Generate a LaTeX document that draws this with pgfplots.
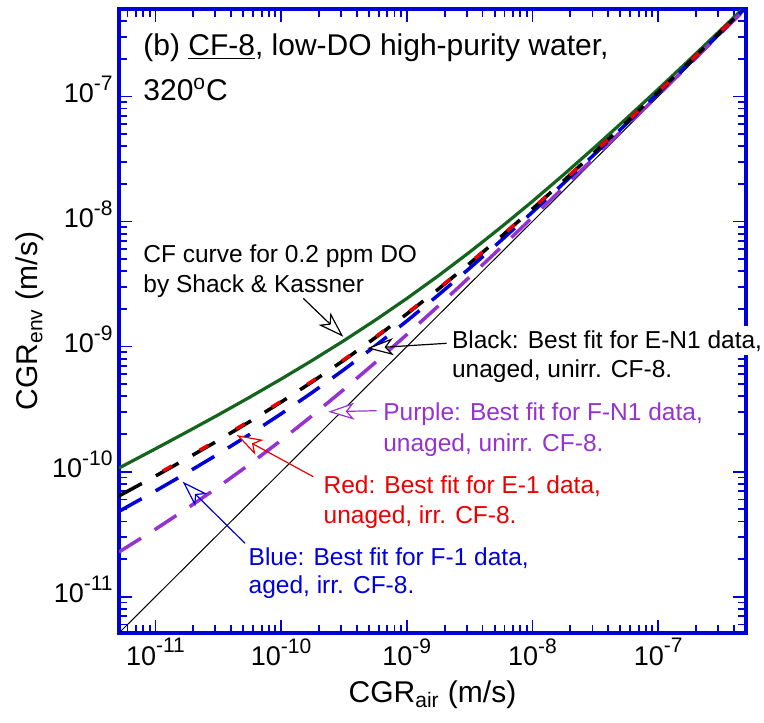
\documentclass[border=0pt]{standalone}
\usepackage{fontspec}
\setmainfont{Liberation Sans}
\usepackage{pgfplots}
\pgfplotsset{compat=1.18}
\usetikzlibrary{arrows.meta}
\definecolor{axblue}{RGB}{0,0,220}
\definecolor{cfgreen}{RGB}{20,100,30}
\definecolor{cpurple}{RGB}{150,50,210}
\definecolor{cred}{RGB}{235,0,0}
\definecolor{cblue}{RGB}{0,0,220}
\newcommand\tklab{\mbox{\fontsize{13.5bp}{15bp}\selectfont 10\raisebox{0.45em}{\fontsize{10.5bp}{12bp}\selectfont -\pgfmathparse{int(round(-\tick/ln(10)))}\pgfmathresult}}}
\tikzset{
  annot/.style={font=\fontsize{12.25bp}{14bp}\selectfont, anchor=base west, inner sep=0pt},
  arr/.style={line width=0.6bp, -{Stealth[fill=white, length=13bp, width=8.5bp, inset=3.5bp]}},
}
\begin{document}
\begin{tikzpicture}
\begin{axis}[
  xmode=log, ymode=log,
  scale only axis, width=313.5bp, height=312bp,
  xmin=5.13e-12, xmax=5e-7, ymin=5.13e-12, ymax=5e-7,
  axis line style={draw=axblue, line width=1.75bp},
  tick style={draw=axblue, line width=0.9bp},
  major tick length=6.5bp, minor tick length=4bp,
  tick align=inside,
  xtick={1e-11,1e-10,1e-9,1e-8,1e-7},
  ytick={1e-11,1e-10,1e-9,1e-8,1e-7},
  xticklabel={\tklab},
  yticklabel={\tklab},
  minor xtick={6e-12,7e-12,8e-12,9e-12,2e-11,3e-11,4e-11,5e-11,6e-11,7e-11,8e-11,9e-11,2e-10,3e-10,4e-10,5e-10,6e-10,7e-10,8e-10,9e-10,2e-9,3e-9,4e-9,5e-9,6e-9,7e-9,8e-9,9e-9,2e-8,3e-8,4e-8,5e-8,6e-8,7e-8,8e-8,9e-8,2e-7,3e-7,4e-7},
  minor ytick={6e-12,7e-12,8e-12,9e-12,2e-11,3e-11,4e-11,5e-11,6e-11,7e-11,8e-11,9e-11,2e-10,3e-10,4e-10,5e-10,6e-10,7e-10,8e-10,9e-10,2e-9,3e-9,4e-9,5e-9,6e-9,7e-9,8e-9,9e-9,2e-8,3e-8,4e-8,5e-8,6e-8,7e-8,8e-8,9e-8,2e-7,3e-7,4e-7},
  xticklabel style={inner sep=2.5bp},
  yticklabel style={yshift=3.5bp, inner sep=3bp},
  xlabel={CGR\textsubscript{air} (m/s)},
  ylabel={CGR\textsubscript{env} (m/s)},
  label style={font=\fontsize{15bp}{18bp}\selectfont},
  xlabel style={at={(axis description cs:0.5,-0.1106)}, anchor=base},
  ylabel style={at={(axis description cs:-0.1292,0.5)}, anchor=base},
]
% y = x reference line
\addplot[black, line width=0.5bp] coordinates {(5.13e-12,5.13e-12) (5.0e-7,5.0e-7)};
% Shack & Kassner CF curve, 0.2 ppm DO
\addplot[cfgreen, line width=1.6bp] coordinates {
(5.13e-12,1.070e-10) (1e-11,1.523e-10) (1.778e-11,2.076e-10) (3.162e-11,2.846e-10)
(5.623e-11,3.937e-10) (1e-10,5.5e-10) (1.778e-10,7.781e-10) (3.162e-10,1.116e-9)
(5.623e-10,1.629e-9) (1e-9,2.423e-9) (1.778e-9,3.676e-9) (3.162e-9,5.692e-9)
(5.623e-9,8.998e-9) (1e-8,1.45e-8) (1.778e-8,2.378e-8) (3.162e-8,3.962e-8)
(5.623e-8,6.690e-8) (1e-7,1.142e-7) (1.778e-7,1.968e-7) (3.162e-7,3.415e-7) (5.012e-7,5.331e-7)};
% Purple: F-N1
\addplot[cpurple, line width=1.75bp, dash pattern=on 13bp off 8bp] coordinates {
(5.13e-12,2.280e-11) (1e-11,3.466e-11) (1.778e-11,5.067e-11) (3.162e-11,7.548e-11)
(5.623e-11,1.147e-10) (1e-10,1.78e-10) (1.778e-10,2.819e-10) (3.162e-10,4.549e-10)
(5.623e-10,7.472e-10) (1e-9,1.247e-9) (1.778e-9,2.107e-9) (3.162e-9,3.601e-9)
(5.623e-9,6.208e-9) (1e-8,1.078e-8) (1.778e-8,1.882e-8) (3.162e-8,3.301e-8)
(5.623e-8,5.808e-8) (1e-7,1.025e-7) (1.778e-7,1.811e-7) (3.162e-7,3.206e-7) (5.012e-7,5.067e-7)};
% Blue: F-1
\addplot[cblue, line width=1.75bp, dash pattern=on 13bp off 8bp] coordinates {
(5.13e-12,4.817e-11) (1e-11,7.008e-11) (1.778e-11,9.790e-11) (3.162e-11,1.384e-10)
(5.623e-11,1.987e-10) (1e-10,2.9e-10) (1.778e-10,4.313e-10) (3.162e-10,6.540e-10)
(5.623e-10,1.013e-9) (1e-9,1.601e-9) (1.778e-9,2.579e-9) (3.162e-9,4.230e-9)
(5.623e-9,7.048e-9) (1e-8,1.19e-8) (1.778e-8,2.032e-8) (3.162e-8,3.500e-8)
(5.623e-8,6.074e-8) (1e-7,1.060e-7) (1.778e-7,1.858e-7) (3.162e-7,3.269e-7) (5.012e-7,5.147e-7)};
% Black: E-N1
\addplot[black, line width=1.75bp, dash pattern=on 13bp off 8bp] coordinates {
(5.13e-12,6.40e-11) (1e-11,9.22e-11) (1.778e-11,1.274e-10) (3.162e-11,1.778e-10)
(5.623e-11,2.512e-10) (1e-10,3.6e-10) (1.778e-10,5.246e-10) (3.162e-10,7.785e-10)
(5.623e-10,1.179e-9) (1e-9,1.822e-9) (1.778e-9,2.874e-9) (3.162e-9,4.624e-9)
(5.623e-9,7.573e-9) (1e-8,1.26e-8) (1.778e-8,2.125e-8) (3.162e-8,3.624e-8)
(5.623e-8,6.240e-8) (1e-7,1.082e-7) (1.778e-7,1.888e-7) (3.162e-7,3.308e-7) (5.012e-7,5.196e-7)};
% Red: E-1
\addplot[cred, line width=1.75bp, dash pattern=on 5bp off 16bp, dash phase=-13bp] coordinates {
(7.586e-12,8.057e-11) (1e-11,9.379e-11) (1.778e-11,1.2955e-10) (3.162e-11,1.806e-10)
(5.623e-11,2.549e-10) (1e-10,3.65e-10) (1.778e-10,5.313e-10) (3.162e-10,7.874e-10)
(5.623e-10,1.191e-9) (1e-9,1.838e-9) (1.778e-9,2.896e-9) (3.162e-9,4.652e-9)
(5.623e-9,7.610e-9) (1e-8,1.265e-8) (1.778e-8,2.132e-8) (3.162e-8,3.633e-8)
(5.623e-8,6.251e-8) (1e-7,1.084e-7) (1.778e-7,1.890e-7) (3.162e-7,3.311e-7) (5.012e-7,5.200e-7)};

% annotations
\node[annot, font=\fontsize{15bp}{18bp}\selectfont] at (rel axis cs:0.0383,0.9263) {(b) \underline{CF-8}, low-DO high-purity water,};
\node[annot, font=\fontsize{15bp}{18bp}\selectfont] at (rel axis cs:0.0383,0.8540) {320\textsuperscript{o}C};
\node[annot] at (rel axis cs:0.0383,0.5930) {CF curve for 0.2 ppm DO};
\node[annot] at (rel axis cs:0.0383,0.5465) {by Shack \& Kassner};
\coordinate (blk) at (rel axis cs:0.5306,0.4567);
\node[annot] at (rel axis cs:0.5306,0.4087) {unaged, unirr. CF-8.};
\node[annot, text=cpurple] at (rel axis cs:0.4210,0.3413) {Purple: Best fit for F-N1 data,};
\node[annot, text=cpurple] at (rel axis cs:0.4210,0.2905) {unaged, unirr. CF-8.};
\node[annot, text=cred] at (rel axis cs:0.3258,0.2239) {Red: Best fit for E-1 data,};
\node[annot, text=cred] at (rel axis cs:0.3258,0.1763) {unaged, irr. CF-8.};
\node[annot, text=cblue] at (rel axis cs:0.2062,0.1090) {Blue: Best fit for F-1 data,};
\node[annot, text=cblue] at (rel axis cs:0.2062,0.0636) {aged, irr. CF-8.};

\draw[arr, black] (rel axis cs:0.2939,0.5364) -- (rel axis cs:0.3577,0.4748);
\draw[arr, black] (rel axis cs:0.5226,0.4643) -- (rel axis cs:0.3960,0.4563);
\draw[arr, cpurple] (rel axis cs:0.4110,0.3563) -- (rel axis cs:0.3338,0.3546);
\draw[arr, cred] (rel axis cs:0.3099,0.2505) -- (rel axis cs:0.1877,0.3173);
\draw[arr, cblue] (rel axis cs:0.2010,0.1438) -- (rel axis cs:0.1016,0.2425);
\end{axis}
\node[annot, fill=white, inner ysep=2bp, inner xsep=0pt] at (blk) {Black: Best fit for E-N1 data,};
\pgfresetboundingbox
\path ([xshift=-59.5bp,yshift=-45bp]current axis.south west) rectangle ([xshift=9bp,yshift=4.5bp]current axis.north east);
\end{tikzpicture}
\end{document}
